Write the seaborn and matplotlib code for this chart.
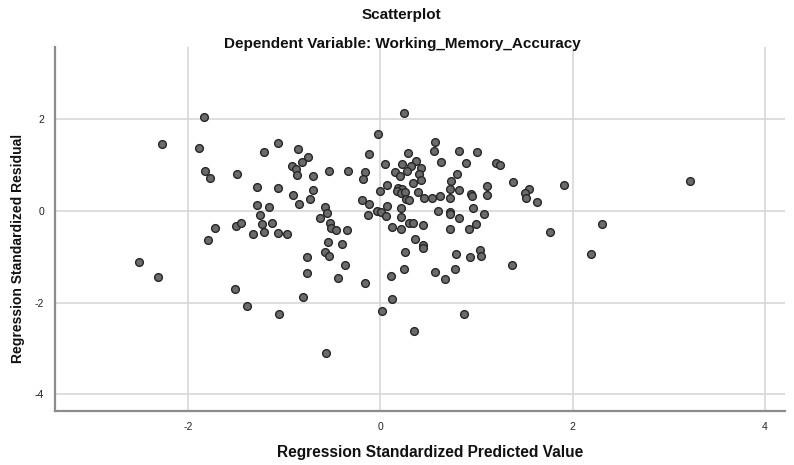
import matplotlib
matplotlib.use("Agg")
import matplotlib.pyplot as plt
import seaborn as sns
import pandas as pd

title = "Scatterplot"
subtitle = "Dependent Variable: Working_Memory_Accuracy"
x_label = "Regression Standardized Predicted Value"
y_label = "Regression Standardized Residual"
x_ticks = [-2, 0, 2, 4]
y_ticks = [-4, -2, 0, 2]

predicted = [
    -1.83, -2.27, -1.89, -1.21, -1.82, -1.77, -1.49, -1.28, -1.28, -1.16,
    -1.25, -1.72, -1.50, -1.45, -1.23, -1.13, -1.33, -1.21, 0.25, -1.07,
    -0.02, -0.86, -0.75, -0.82, -0.92, -0.88, -0.87, -0.70, -0.53, -0.34,
    -0.12, -0.16, -0.18, 0.05, 0.29, 0.23, 0.37, 0.32, 0.42, 0.15,
    0.20, 0.28, 0.40, 0.42, 0.34, 0.07, 0.00, 0.18, 0.23, 0.17,
    0.22, 0.26, 0.27, 0.30, 0.39, 0.45, -1.07, -0.91, -0.70, -0.73,
    -0.85, -0.58, -0.55, -0.19, -0.12, -0.13, -0.03, 0.01, 0.07, 0.06,
    0.21, 0.21, -0.63, -0.52, -0.51, -0.46, -0.35, 0.12, 0.21, 0.30,
    0.34, 0.44, -0.97, -1.07, 0.57, 0.56, 0.82, 1.01, 0.63, 0.89,
    1.20, 1.24, 0.80, 0.74, 0.72, 0.82, 1.11, 1.38, 1.55, 1.51,
    1.52, 1.63, 1.91, 0.54, 0.62, 0.72, 0.94, 0.95, 1.11, 0.96,
    0.60, 0.72, 0.72, 0.82, 1.08, 0.72, 0.92, 0.99, 1.76, 3.22,
    2.31, -1.79, -2.51, -2.31, -1.51, -1.39, -0.54, -0.40, -0.76, -0.58,
    -0.53, -0.37, -0.76, -0.44, -0.16, -0.80, -1.05, 0.02, -0.57, 0.36,
    0.44, 0.44, 0.26, 0.25, 0.11, 0.12, 0.35, 0.79, 0.93, 1.04,
    1.05, 1.37, 0.57, 0.67, 0.78, 0.87, 2.19,
]

residual = [
    2.06, 1.46, 1.37, 1.29, 0.87, 0.72, 0.81, 0.53, 0.14, 0.09,
    -0.09, -0.36, -0.33, -0.27, -0.28, -0.26, -0.49, -0.45, 2.13, 1.49,
    1.69, 1.36, 1.19, 1.08, 0.98, 0.91, 0.79, 0.76, 0.88, 0.87,
    1.24, 0.86, 0.71, 1.03, 1.26, 1.03, 1.09, 0.98, 0.95, 0.85,
    0.76, 0.88, 0.81, 0.67, 0.62, 0.57, 0.44, 0.50, 0.48, 0.43,
    0.39, 0.42, 0.26, 0.24, 0.42, 0.28, 0.51, 0.35, 0.46, 0.27,
    0.15, 0.09, -0.04, 0.24, 0.15, -0.08, 0.00, -0.02, 0.12, -0.11,
    0.07, -0.12, -0.16, -0.27, -0.37, -0.41, -0.42, -0.34, -0.38, -0.27,
    -0.25, -0.31, -0.50, -0.47, 1.51, 1.32, 1.32, 1.29, 1.07, 1.05,
    1.04, 1.00, 0.81, 0.66, 0.48, 0.46, 0.54, 0.63, 0.49, 0.39,
    0.28, 0.20, 0.58, 0.28, 0.33, 0.28, 0.37, 0.33, 0.35, 0.07,
    0.01, -0.02, -0.07, -0.15, -0.07, -0.40, -0.38, -0.29, -0.46, 0.66,
    -0.28, -0.63, -1.12, -1.44, -1.70, -2.06, -0.67, -0.72, -1.00, -0.90,
    -0.98, -1.17, -1.35, -1.45, -1.56, -1.87, -2.25, -2.17, -3.09, -0.60,
    -0.74, -0.81, -0.89, -1.27, -1.41, -1.91, -2.61, -0.94, -1.00, -0.84,
    -0.97, -1.17, -1.32, -1.47, -1.26, -2.24, -0.94,
]

df = pd.DataFrame({"pred": predicted, "resid": residual})

sns.set_theme(style="white")
plt.rcParams["font.family"] = ["Liberation Sans", "DejaVu Sans"]
plt.rcParams["axes.unicode_minus"] = False

fig = plt.figure(figsize=(7.94, 4.65), dpi=100)
ax = fig.add_axes([55 / 794, 1 - 411 / 465, (785 - 55) / 794, (411 - 47) / 465])

ax.grid(True, color="#d4d4d4", linewidth=1.1)
ax.set_axisbelow(True)

sns.scatterplot(
    data=df, x="pred", y="resid", ax=ax,
    s=31, color="#6b6b6b", edgecolor="#262626", linewidth=1.0, zorder=3,
)

ax.set_xlim(-3.385, 4.21)
ax.set_ylim(-4.36, 3.58)
ax.set_xticks(x_ticks)
ax.set_yticks(y_ticks)
ax.tick_params(length=0, labelsize=7.5, colors="#222222", pad=8)

for side in ("top", "right"):
    ax.spines[side].set_visible(False)
for side in ("left", "bottom"):
    ax.spines[side].set_color("#8c8c8c")
    ax.spines[side].set_linewidth(1.6)

ax.set_xlabel(x_label, fontsize=11.2, fontweight="bold", color="#111111")
ax.set_ylabel(y_label, fontsize=10.0, fontweight="bold", color="#111111")
ax.xaxis.set_label_coords((430 - 55) / 730, (411 - 452) / 364)
ax.yaxis.set_label_coords((18 - 55) / 730, (411 - 248) / 364)
ax.xaxis.label.set_va("center")
ax.yaxis.label.set_va("center")

fig.text(401 / 794, 1 - 15 / 465, title, ha="center", va="center",
         fontsize=11, fontweight="bold", color="#111111")
fig.text(402 / 794, 1 - 44 / 465, subtitle, ha="center", va="center",
         fontsize=11, fontweight="bold", color="#111111")

fig.savefig("out.png", dpi=100)
